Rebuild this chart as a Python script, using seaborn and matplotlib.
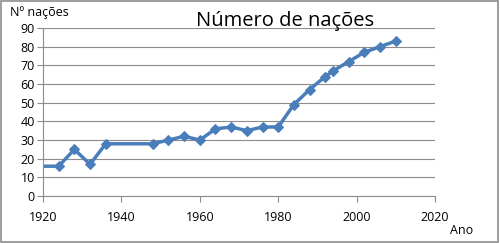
import matplotlib
matplotlib.use("Agg")
import matplotlib.pyplot as plt
import seaborn as sns
import pandas as pd
from matplotlib.patches import Rectangle

years = [1920, 1924, 1928, 1932, 1936, 1948, 1952, 1956, 1960, 1964, 1968, 1972,
         1976, 1980, 1984, 1988, 1992, 1994, 1998, 2002, 2006, 2010]
nations = [16, 16, 25, 17, 28, 28, 30, 32, 30, 36, 37, 35,
           37, 37, 49, 57, 64, 67, 72, 77, 80, 83]
x_ticks = [1920, 1940, 1960, 1980, 2000, 2020]
y_ticks = [0, 10, 20, 30, 40, 50, 60, 70, 80, 90]

sns.set_theme(style="white")
plt.rcParams['font.family'] = ['Open Sans', 'DejaVu Sans']

df = pd.DataFrame({"Ano": years, "Nº nações": nations})

fig = plt.figure(figsize=(5, 2.43), dpi=100)
ax = fig.add_axes([0.086, 0.193, 0.784, 0.692])
color = "#4A7EBB"
sns.lineplot(data=df, x="Ano", y="Nº nações", ax=ax, color=color, linewidth=2.5,
             marker="D", markersize=5.5, markeredgecolor=color, markevery=list(range(1, len(years))))

ax.set_xlim(1920, 2020)
ax.set_ylim(0, 90)
ax.set_xticks(x_ticks)
ax.set_yticks(y_ticks)
ax.grid(axis="y", color="#8C8C8C", linewidth=0.8)
ax.set_axisbelow(True)
for s in ["top", "right"]:
    ax.spines[s].set_visible(False)
for s in ["left", "bottom"]:
    ax.spines[s].set_color("#8C8C8C")
    ax.spines[s].set_linewidth(0.8)
ax.tick_params(axis="both", which="both", length=4, width=0.8, color="#8C8C8C",
               labelsize=9, labelcolor="black", direction="out", bottom=True, left=True)
ax.tick_params(axis="x", pad=7)
ax.tick_params(axis="y", pad=2)
ax.set_xlabel("")
ax.set_ylabel("")

fig.text(0.57, 0.915, "Número de nações", ha="center", va="center", fontsize=14.5, color="black")
fig.text(0.02, 0.948, "Nº nações", ha="left", va="center", fontsize=9, color="black")
fig.text(0.90, 0.05, "Ano", ha="left", va="center", fontsize=9, color="black")

fig.patches.append(Rectangle((0.002, 0.004), 0.994, 0.99, transform=fig.transFigure,
                             fill=False, edgecolor="#8C8C8C", linewidth=1.2))

fig.savefig("out.png", dpi=100)
